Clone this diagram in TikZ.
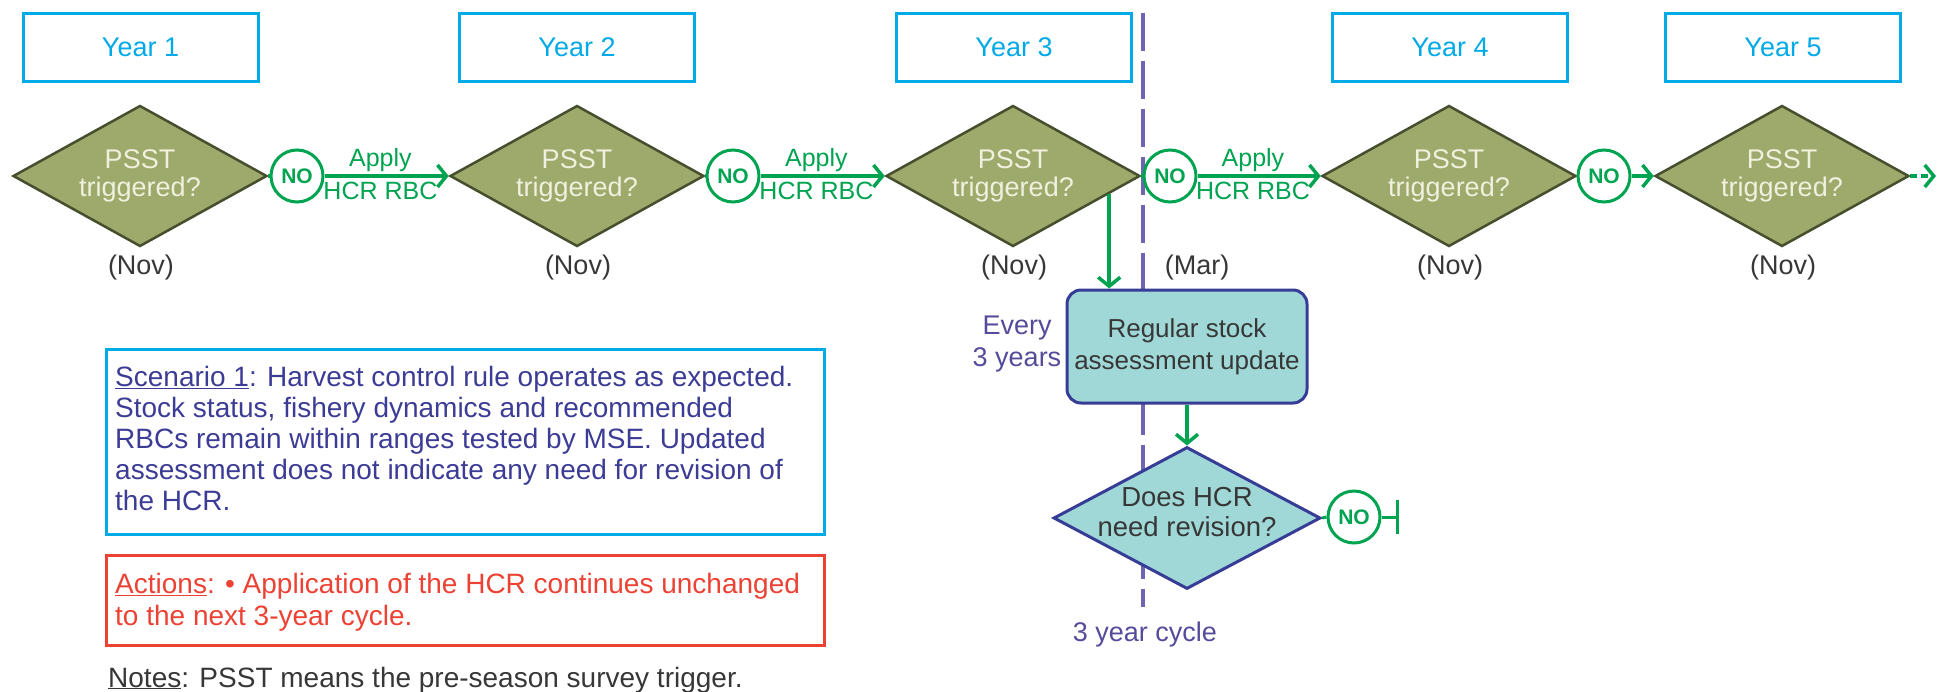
\documentclass[tikz,border=0pt]{standalone}
\usepackage{fontspec}
\setmainfont{Liberation Sans}
\usetikzlibrary{shapes.geometric,arrows.meta,calc}
\definecolor{yearcol}{RGB}{0,170,230}
\definecolor{olfill}{RGB}{157,170,107}
\definecolor{oldraw}{RGB}{70,78,45}
\definecolor{oltext}{RGB}{240,240,222}
\definecolor{grn}{RGB}{0,163,80}
\definecolor{tealf}{RGB}{160,216,216}
\definecolor{navy}{RGB}{55,60,150}
\definecolor{scen}{RGB}{60,60,150}
\definecolor{redc}{RGB}{236,66,52}
\definecolor{purp}{RGB}{110,100,180}
\definecolor{purpt}{RGB}{85,75,155}
\definecolor{darkt}{RGB}{55,55,55}
\begin{document}
\begin{tikzpicture}[x=1pt,y=-1pt,
  yearbox/.style={draw=yearcol, line width=3pt, minimum width=235pt, minimum height=68pt, inner sep=0pt,
    font=\fontsize{27}{30}\selectfont, text=yearcol},
  psst/.style={diamond, aspect=1.8, draw=oldraw, fill=olfill, line width=2.5pt, minimum width=254pt,
    minimum height=141pt, inner sep=0pt},
  psstlbl/.style={align=center, text=oltext, inner sep=0pt, font=\fontsize{27}{28}\selectfont},
  month/.style={text=darkt, inner sep=0pt, font=\fontsize{27}{30}\selectfont},
  nocirc/.style={circle, draw=grn, fill=white, line width=3pt, minimum size=52pt, inner sep=0pt,
    font=\bfseries\fontsize{21}{22}\selectfont, text=grn},
  gline/.style={draw=grn, line width=3.5pt},
  garrow/.style={gline, -{Straight Barb[length=9pt,width=22pt]}},
  glbl/.style={text=grn, inner sep=0pt, font=\fontsize{25}{26}\selectfont},
  rbox/.style={draw=navy, fill=tealf, line width=3pt, rounded corners=14pt, minimum width=240pt,
    minimum height=113pt, align=center, text=darkt, inner sep=0pt, font=\fontsize{26}{32}\selectfont},
  qdiam/.style={diamond, aspect=1.88, draw=navy, fill=tealf, line width=3pt, minimum width=267pt,
    minimum height=142pt, inner sep=0pt},
  qlbl/.style={align=center, text=darkt, inner sep=0pt, font=\fontsize{27.5}{30}\selectfont},
  purplbl/.style={text=purpt, inner sep=0pt, align=center, font=\fontsize{27}{32}\selectfont},
  cyclebar/.style={draw=purp, line width=4pt, dash pattern=on 38pt off 10pt},
  infobox/.style={line width=3pt, anchor=north west, minimum width=718pt, inner sep=0pt},
  infotext/.style={anchor=north west, align=left, inner sep=0pt, font=\fontsize{28}{31}\selectfont}
]
\useasboundingbox (0,0) rectangle (1939,691);

% 3 year cycle line
\coordinate (dtop) at (1143,13);
\coordinate (dbot) at (1143,607);
\draw[cyclebar] (dtop) -- (dbot);

% year boxes
\node[yearbox] (y1) at (140.5,47) {Year 1};
\node[yearbox] (y2) at (577,47) {Year 2};
\node[yearbox] (y3) at (1014,47) {Year 3};
\node[yearbox] (y4) at (1450,47) {Year 4};
\node[yearbox] (y5) at (1783,47) {Year 5};

% PSST diamonds
\foreach \i/\x in {1/140,2/577,3/1013,4/1449,5/1782}{
  \node[psst] (d\i) at (\x,176) {};
  \node[psstlbl] (t\i) at (\x,176) {PSST\\triggered?};
  \node[month] (m\i) at (\x+1,268) {(Nov)};
}
\node[month] (mar) at (1197,268) {(Mar)};

% NO circles
\node[nocirc] (n1) at (297,176) {NO};
\node[nocirc] (n2) at (733,176) {NO};
\node[nocirc] (n3) at (1170,176) {NO};
\node[nocirc] (n4) at (1604,176) {NO};

% connectors along the timeline
\draw[gline] (d1.east) -- (n1.west);
\draw[gline] (d2.east) -- (n2.west);
\draw[gline] (d3.east) -- (n3.west);
\draw[gline] (d4.east) -- (n4.west);
\draw[garrow] (n1) -- node[glbl, pos=0.45, above=3pt] (a1) {Apply} node[glbl, pos=0.45, below=4pt] (h1) {HCR RBC} (d2.west);
\draw[garrow] (n2) -- node[glbl, pos=0.45, above=3pt] (a2) {Apply} node[glbl, pos=0.45, below=4pt] (h2) {HCR RBC} (d3.west);
\draw[garrow] (n3) -- node[glbl, pos=0.45, above=3pt] (a3) {Apply} node[glbl, pos=0.45, below=4pt] (h3) {HCR RBC} (d4.west);
\draw[garrow] (n4) -- (d5.west);
\coordinate (endR) at (1936,176);
\draw[garrow, dash pattern=on 7pt off 4pt] (d5.east) -- (endR);

% stock assessment branch
\node[rbox] (rsa) at (1187,346.5) {Regular stock\\assessment update};
\node[purplbl] (every) at (1017,344) {Every\\3 years};
\coordinate (d3s) at ($(d3.east)!0.25!(d3.south)$);
\draw[garrow] (d3s) -- (d3s |- rsa.north);
\node[qdiam] (dq) at (1187,518) {};
\node[qlbl] (ql) at (1187,512) {Does HCR\\need revision?};
\draw[garrow] (rsa.south) -- (dq.north);
\node[nocirc] (n5) at (1354,517) {NO};
\draw[gline, line width=3pt] (dq.east) -- (n5.west);
\coordinate (tend) at (1399,517);
\draw[gline, line width=3pt, -{Bar[width=34pt]}] (n5.east) -- (tend);
\node[purplbl] (cyc) at (1145,635) {3 year cycle};

% info boxes
\node[infobox, draw=yearcol, minimum height=185pt] (scen) at (105,348) {};
\node[infotext, text=scen] (scent) at (115,366.5) {\underline{Scenario 1}: Harvest control rule operates as expected.\\
Stock status, fishery dynamics and recommended\\
RBCs remain within ranges tested by MSE. Updated\\
assessment does not indicate any need for revision of\\
the HCR.};
\node[infobox, draw=redc, minimum height=90pt] (act) at (105,554) {};
\node[infotext, text=redc, font=\fontsize{28}{32}\selectfont] (actt) at (115,573.5) {\underline{Actions}: • Application of the HCR continues unchanged\\
to the next 3-year cycle.};
\node[anchor=base west, inner sep=0pt, text=darkt, font=\fontsize{28}{31}\selectfont] (notes) at (108,687) {\underline{Notes}: PSST means the pre-season survey trigger.};
\end{tikzpicture}
\end{document}
